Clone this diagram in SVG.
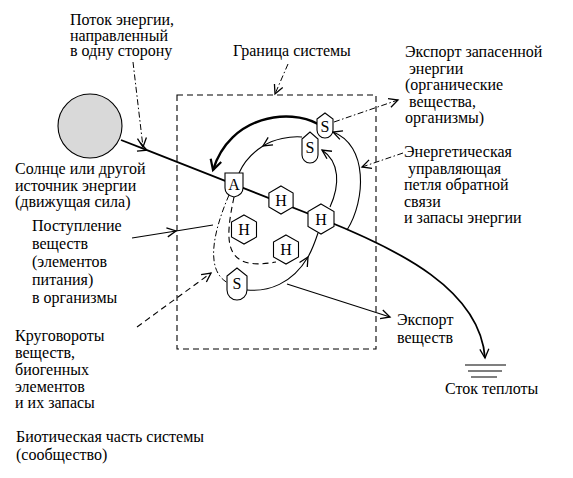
<svg xmlns="http://www.w3.org/2000/svg" width="573" height="478" viewBox="0 0 573 478">
<defs>
<marker id="ar" markerUnits="userSpaceOnUse" markerWidth="12" markerHeight="12" refX="10" refY="6" orient="auto" viewBox="0 0 12 12">
<path d="M1,1.5 L10,6 L1,10.5" fill="none" stroke="#000" stroke-width="1.3"/>
</marker>
<marker id="arb" markerUnits="userSpaceOnUse" markerWidth="14" markerHeight="14" refX="11" refY="7" orient="auto" viewBox="0 0 14 14">
<path d="M1,1.5 L11,7 L1,12.5" fill="none" stroke="#000" stroke-width="2.2"/>
</marker>
<style>
text{font-family:'Liberation Serif','Times New Roman',serif;font-size:16px;fill:#000}
.n{font-size:16px;text-anchor:middle}
.sh{fill:#fff;stroke:#000;stroke-width:1.1}
.c{fill:none;stroke:#000;stroke-width:1.1}
.dd{fill:none;stroke:#000;stroke-width:1;stroke-dasharray:6,2.5,1.5,2.5}
.ds{fill:none;stroke:#000;stroke-width:1.1;stroke-dasharray:6,4}
</style>
</defs>
<rect width="573" height="478" fill="#fff"/>

<g id="boundary">
<rect x="177" y="95" width="199" height="254" fill="none" stroke="#000" stroke-width="1.1" stroke-dasharray="6,4"/>
</g>

<g id="sun">
<circle cx="90" cy="126" r="32" fill="#d9d9d9" stroke="#000" stroke-width="1.1"/>
</g>

<g id="connectors">
<path d="M121,140 L147,150.2" fill="none" stroke="#000" stroke-width="1.8" marker-end="url(#ar)"/>
<path d="M147,150.2 L322,219 C400,250 480,290 485,358" fill="none" stroke="#000" stroke-width="1.8" marker-end="url(#ar)"/>
<path d="M465,365 H506 M468,371 H502 M471,377 H497" stroke="#000" stroke-width="1.2"/>
<path d="M318,124 C290,108 230,115 213,170" fill="none" stroke="#000" stroke-width="2.4" marker-end="url(#arb)"/>
<path d="M302,137 C290,136 274,139 263,146" class="c" marker-end="url(#ar)"/>
<path d="M263,146 C252,153 244,162 239,173" class="c"/>
<path d="M330,207 C340,185 340,162 322,150" class="c" marker-end="url(#ar)"/>
<path d="M347,230 C366,200 368,145 333,132" class="c" marker-end="url(#ar)"/>
<path d="M247,290 C268,292 292,284 308,257" class="c" marker-end="url(#ar)"/>
<path d="M308,257 C312,250 315,242 318,233" class="c"/>
<path d="M229,195 C214,230 204,270 228,283" class="dd"/>
<path d="M234,197 C225,240 222,272 276,262" class="ds"/>
<path d="M132,238 L176,231" class="c" marker-end="url(#ar)"/>
<path d="M176,231 L213,225" class="c"/>
<path d="M137,327 L211,273" class="ds" marker-end="url(#ar)"/>
<path d="M287,284 L390,317" class="c" marker-end="url(#ar)"/>
<path d="M133,62 L143,147" class="dd" marker-end="url(#ar)"/>
<path d="M288,64 L275,94" class="dd" marker-end="url(#ar)"/>
<path d="M334,122 L398,100" class="dd" marker-end="url(#ar)"/>
<path d="M403,153 L362,167" class="dd" marker-end="url(#ar)"/>
</g>

<g id="node-A">
<path class="sh" d="M225,173 L243,173 L243,188 Q243,195 234,197 Q225,195 225,188 Z"/>
<text class="n" x="234" y="190">A</text>
</g>
<g id="node-H1">
<path class="sh" d="M281,186 L293.1,193 L293.1,207 L281,214 L268.9,207 L268.9,193 Z"/>
<text class="n" x="281" y="205.5">H</text>
</g>
<g id="node-H2">
<path class="sh" d="M321,204 L334,211.5 L334,226.5 L321,234 L308,226.5 L308,211.5 Z"/>
<text class="n" x="321" y="224.5">H</text>
</g>
<g id="node-H3">
<path class="sh" d="M244,215 L256.5,222 L256.5,237 L244,244 L231.5,237 L231.5,222 Z"/>
<text class="n" x="244" y="235">H</text>
</g>
<g id="node-H4">
<path class="sh" d="M286,235 L298.5,242 L298.5,257 L286,264 L273.5,257 L273.5,242 Z"/>
<text class="n" x="286" y="255">H</text>
</g>
<g id="node-S1">
<path class="sh" d="M317,119 L325,113 L333,119 L333,130 A8,8 0 0 1 317,130 Z"/>
<text class="n" x="325" y="132">S</text>
</g>
<g id="node-S2">
<path class="sh" d="M302,139 L310,132 L318,139 L318,155 A8,8 0 0 1 302,155 Z"/>
<text class="n" x="310" y="153">S</text>
</g>
<g id="node-S3">
<path class="sh" d="M227,276 L237,268 L247,276 L247,290 A10,10 0 0 1 227,290 Z"/>
<text class="n" x="237" y="289">S</text>
</g>

<g id="labels">
<text x="70" y="25"><tspan x="70">Поток энергии,</tspan><tspan x="70" dy="15.5">направленный</tspan><tspan x="70" dy="15.5">в одну сторону</tspan></text>
<text x="233" y="56">Граница системы</text>
<text x="405" y="57"><tspan x="405">Экспорт запасенной</tspan><tspan x="409" dy="16.5">энергии</tspan><tspan x="405" dy="16.5">(органические</tspan><tspan x="409" dy="16.5">вещества,</tspan><tspan x="405" dy="16.5">организмы)</tspan></text>
<text x="404" y="157"><tspan x="404">Энергетическая</tspan><tspan x="408" dy="16.5">управляющая</tspan><tspan x="404" dy="16.5">петля обратной</tspan><tspan x="404" dy="16.5">связи</tspan><tspan x="404" dy="16.5">и запасы энергии</tspan></text>
<text x="15" y="174"><tspan x="15">Солнце или другой</tspan><tspan x="15" dy="16.5">источник энергии</tspan><tspan x="15" dy="16.5">(движущая сила)</tspan></text>
<text x="32" y="231"><tspan x="32">Поступление</tspan><tspan x="32" dy="18">веществ</tspan><tspan x="32" dy="18">(элементов</tspan><tspan x="32" dy="18">питания)</tspan><tspan x="32" dy="17.5">в организмы</tspan></text>
<text x="15" y="341"><tspan x="15">Круговороты</tspan><tspan x="15" dy="17">веществ,</tspan><tspan x="15" dy="17">биогенных</tspan><tspan x="15" dy="17">элементов</tspan><tspan x="15" dy="16">и их запасы</tspan></text>
<text x="16" y="442"><tspan x="16">Биотическая часть системы</tspan><tspan x="16" dy="17.5">(сообщество)</tspan></text>
<text x="397" y="325"><tspan x="397">Экспорт</tspan><tspan x="397" dy="18">веществ</tspan></text>
<text x="445" y="394">Сток теплоты</text>
</g>
</svg>
